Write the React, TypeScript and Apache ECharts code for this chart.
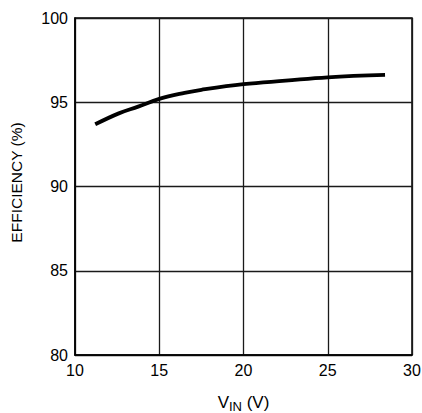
import React, { useEffect, useRef } from "react";
import * as echarts from "echarts";

const vin = [11.2, 12.6, 13.75, 15, 16.5, 17.5, 20, 22.5, 25, 28.4];
const efficiency = [93.69, 94.34, 94.74, 95.2, 95.56, 95.74, 96.07, 96.28, 96.48, 96.62];
const xTicks = [10, 15, 20, 25, 30];
const yTicks = [80, 85, 90, 95, 100];

export default function App() {
  const ref = useRef<HTMLDivElement>(null);
  useEffect(() => {
    if (!ref.current) return;
    const chart = echarts.init(ref.current, undefined, { renderer: "svg" });
    const font = "'Liberation Sans', Arial, sans-serif";
    chart.setOption({
      animation: false,
      backgroundColor: "#ffffff",
      grid: {
        left: 75,
        right: 10,
        top: 18,
        bottom: 58,
        show: true,
        borderColor: "#000",
        borderWidth: 1.5,
        containLabel: false,
        outerBoundsMode: "none",
      },
      xAxis: {
        type: "value",
        min: xTicks[0],
        max: xTicks[xTicks.length - 1],
        interval: 5,
        name: "{v|V}{s|IN}{v| (V)}",
        nameLocation: "middle",
        nameGap: 36,
        nameTextStyle: {
          rich: {
            v: { fontSize: 17, fontFamily: font, color: "#000" },
            s: { fontSize: 13, fontFamily: font, color: "#000", verticalAlign: "bottom", padding: [9, 0, 0, 0] },
          },
        },
        axisLine: { show: true, lineStyle: { color: "#000", width: 1.5 } },
        axisTick: { show: false },
        axisLabel: { color: "#000", fontSize: 16, fontFamily: font, margin: 7 },
        splitLine: { show: true, lineStyle: { color: "#1a1a1a", width: 1.3 } },
      },
      yAxis: {
        type: "value",
        min: yTicks[0],
        max: yTicks[yTicks.length - 1],
        interval: 5,
        name: "EFFICIENCY (%)",
        nameLocation: "middle",
        nameGap: 51,
        nameTextStyle: { color: "#000", fontSize: 15.5, fontFamily: font, padding: [0, 0, 0, 8] },
        axisLine: { show: true, lineStyle: { color: "#000", width: 1.5 } },
        axisTick: { show: false },
        axisLabel: { color: "#000", fontSize: 16, fontFamily: font, margin: 7 },
        splitLine: { show: true, lineStyle: { color: "#1a1a1a", width: 1.3 } },
      },
      series: [
        {
          type: "line",
          data: vin.map((v, i) => [v, efficiency[i]]),
          smooth: 0.4,
          symbol: "none",
          lineStyle: { color: "#000", width: 3.8 },
        },
      ],
    });
    return () => chart.dispose();
  }, []);
  return (
    <div
      ref={ref}
      style={{ position: "fixed", left: 0, top: 0, width: 422, height: 413 }}
    />
  );
}
